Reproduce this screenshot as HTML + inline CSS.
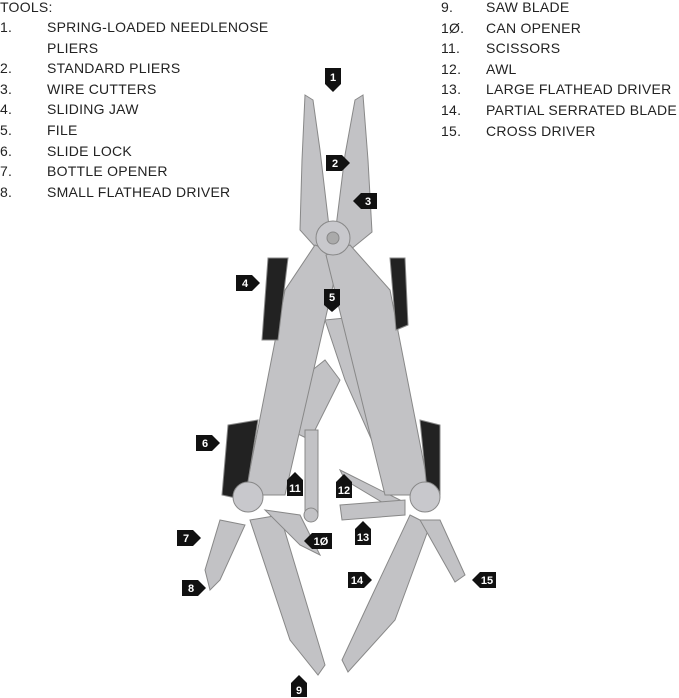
<!DOCTYPE html>
<html><head><meta charset="utf-8"><style>
body{margin:0;width:679px;height:698px;background:#fff;overflow:hidden;position:relative;font-family:"Liberation Sans",sans-serif}
.t{position:absolute;font-size:14px;letter-spacing:0.25px;color:#222;line-height:20.6px;white-space:nowrap}
</style></head><body>
<div class="t" style="left:0;top:-3px">TOOLS:</div>
<div class="t" style="left:0;top:17px">1.<br>&nbsp;<br>2.<br>3.<br>4.<br>5.<br>6.<br>7.<br>8.</div>
<div class="t" style="left:47px;top:17px">SPRING-LOADED NEEDLENOSE<br>PLIERS<br>STANDARD PLIERS<br>WIRE CUTTERS<br>SLIDING JAW<br>FILE<br>SLIDE LOCK<br>BOTTLE OPENER<br>SMALL FLATHEAD DRIVER</div>
<div class="t" style="left:441px;top:-3px">9.<br>1Ø.<br>11.<br>12.<br>13.<br>14.<br>15.</div>
<div class="t" style="left:486px;top:-3px">SAW BLADE<br>CAN OPENER<br>SCISSORS<br>AWL<br>LARGE FLATHEAD DRIVER<br>PARTIAL SERRATED BLADE<br>CROSS DRIVER</div>
<svg width="679" height="698" style="position:absolute;left:0;top:0">
<g stroke="#888" stroke-width="1" fill="#c2c2c5">
<polygon points="305,95 313,100 320,150 330,235 318,250 300,230 302,160"/>
<polygon points="363,95 355,100 345,155 335,235 350,250 372,232 368,160"/>
<polygon points="250,520 280,515 325,665 318,675 290,640"/>
<polygon points="410,515 430,525 395,620 348,672 342,660 370,600"/>
<polygon points="325,320 345,318 400,445 385,470 345,380"/>
<polygon points="300,380 325,360 340,380 310,440 290,430"/>
<polygon points="305,430 318,430 318,515 305,515"/>
<circle cx="311" cy="515" r="7"/>
<polygon points="340,470 400,500 395,510 345,480"/>
<polygon points="340,505 405,500 405,515 342,520"/>
<polygon points="420,520 440,520 465,575 455,582"/>
<polygon points="220,520 245,525 220,580 210,590 205,570"/>
<polygon points="265,510 300,515 320,555 300,545"/>
<polygon points="315,245 340,255 285,495 245,495 285,290"/>
<polygon points="350,245 326,255 385,495 430,495 390,290"/>
<polygon points="268,258 288,258 278,340 262,340" fill="#222"/>
<polygon points="390,258 405,258 408,325 396,330" fill="#222"/>
<polygon points="228,425 258,420 245,500 222,495" fill="#222"/>
<polygon points="420,420 440,425 440,495 428,500" fill="#222"/>
<circle cx="333" cy="238" r="17" fill="#c8c8cc"/>
<circle cx="333" cy="238" r="6" fill="#aaa"/>
<circle cx="248" cy="497" r="15" fill="#c8c8cc"/>
<circle cx="425" cy="497" r="15" fill="#c8c8cc"/>
</g>
<g fill="#111">
<polygon points="325,68 341,68 341,84 333,92 325,84"/>
<polygon points="326,155 342,155 350,163 342,171 326,171"/>
<polygon points="361,193 377,193 377,209 361,209 353,201"/>
<polygon points="236,275 252,275 260,283 252,291 236,291"/>
<polygon points="324,289 340,289 340,305 332,312 324,305"/>
<polygon points="196,435 212,435 220,443 212,451 196,451"/>
<polygon points="177,530 193,530 201,538 193,546 177,546"/>
<polygon points="182,580 198,580 206,588 198,596 182,596"/>
<polygon points="291,683 307,683 307,697 291,697 291,683"/>
<polygon points="299,675 307,683 291,683"/>
<polygon points="312,533 332,533 332,549 312,549 304,541"/>
<polygon points="287,480 303,480 303,496 287,496"/><polygon points="287,480 295,472 303,480"/>
<polygon points="336,482 352,482 352,498 336,498"/><polygon points="336,482 344,474 352,482"/>
<polygon points="355,529 371,529 371,545 355,545"/><polygon points="355,529 363,521 371,529"/>
<polygon points="348,572 364,572 372,580 364,588 348,588"/>
<polygon points="480,572 496,572 496,588 480,588 472,580"/>
</g>
<g fill="#fff" font-family="Liberation Sans" font-weight="bold" font-size="11" text-anchor="middle">
<text x="333" y="81">1</text><text x="335" y="167">2</text><text x="368" y="205">3</text>
<text x="245" y="287">4</text><text x="332" y="301">5</text><text x="205" y="447">6</text>
<text x="186" y="542">7</text><text x="191" y="592">8</text><text x="299" y="694">9</text>
<text x="321" y="545">1Ø</text><text x="295" y="492">11</text><text x="344" y="494">12</text>
<text x="363" y="541">13</text><text x="357" y="584">14</text><text x="487" y="584">15</text>
</g>
</svg>
</body></html>
